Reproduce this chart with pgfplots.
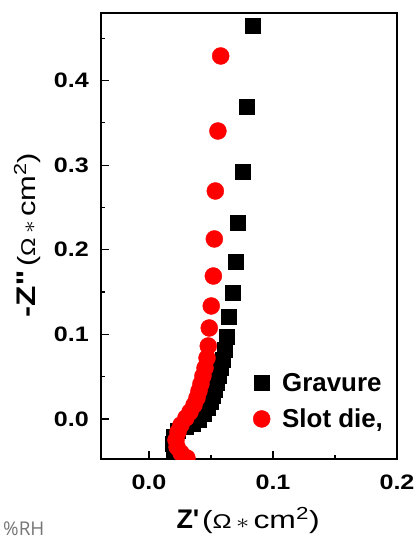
\documentclass[border=0pt]{standalone}
\usepackage{fontspec}
\setmainfont{Liberation Sans}
\newfontfamily\opensans{Open Sans}
\usepackage{graphicx}
\usepackage{pgfplots}
\pgfplotsset{compat=1.18}

\pgfplotstableread{
x y
0.0839 0.4645
0.0790 0.3688
0.0758 0.2920
0.0718 0.2317
0.0702 0.1856
0.0677 0.1489
0.0645 0.1206
0.0629 0.0969
0.0613 0.0816
0.0597 0.0697
0.0581 0.0603
0.0565 0.0508
0.0548 0.0426
0.0532 0.0343
0.0516 0.0272
0.0500 0.0201
0.0476 0.0130
0.0444 0.0059
0.0403 -0.0012
0.0355 -0.0059
0.0298 -0.0095
0.0234 -0.0142
0.0202 -0.0213
0.0194 -0.0296
0.0202 -0.0390
}\gravure

\pgfplotstableread{
x y
0.0578 0.4291
0.0556 0.3404
0.0535 0.2695
0.0527 0.2128
0.0519 0.1690
0.0502 0.1336
0.0486 0.1076
0.0478 0.0863
0.0468 0.0721
0.0452 0.0603
0.0435 0.0508
0.0419 0.0414
0.0403 0.0331
0.0387 0.0248
0.0363 0.0165
0.0331 0.0083
0.0298 0.0012
0.0258 -0.0071
0.0234 -0.0154
0.0218 -0.0248
0.0226 -0.0331
0.0258 -0.0402
0.0306 -0.0461
0.0355 -0.0508
}\slotdie

\newcommand{\unit}{{\fontsize{25}{25}\selectfont(}{\fontsize{20}{20}\selectfont Ω\,$\ast$\,}{\fontsize{25}{25}\selectfont cm\textsuperscript{2})}}
\newcommand{\legfont}{\fontsize{26}{26}\selectfont\bfseries}

\begin{document}
\begin{tikzpicture}
\path[use as bounding box] (-101bp,-86bp) rectangle (317bp,459bp);
\begin{axis}[
  scale only axis,
  width=296bp, height=446bp,
  xmin=-0.0387, xmax=0.2,
  ymin=-0.0473, ymax=0.4799,
  axis line style={line width=1.5bp},
  tick style={line width=1.2bp, black},
  tick align=inside,
  major tick length=8bp, minor tick length=4bp,
  xtick={0,0.1,0.2}, ytick={0,0.1,0.2,0.3,0.4},
  minor xtick={0.05,0.15}, minor ytick={0.05,0.15,0.25,0.35,0.45},
  xtick pos=bottom, ytick pos=left,
  tick label style={font=\fontsize{21}{21}\selectfont\bfseries, inner sep=0pt},
  xticklabel={\scalebox{1.2}[1]{\pgfmathprintnumber{\tick}}},
  yticklabel={\scalebox{1.2}[1]{\pgfmathprintnumber{\tick}}},
  xticklabel style={anchor=base, yshift=-30bp},
  yticklabel style={anchor=east, xshift=-12bp},
  xlabel={{\fontsize{27}{27}\selectfont\bfseries Z\textquotesingle}\ \scalebox{1.28}[1]{\unit}},
  ylabel={\scalebox{1.24}[1]{{\fontsize{27}{27}\selectfont\bfseries -Z\textquotesingle\textquotesingle}\ \unit}},
  xlabel style={at={(axis description cs:0.497,-0.155)}, anchor=base, inner sep=0pt},
  ylabel style={at={(axis description cs:-0.25,0.502)}, anchor=center, inner sep=0pt},
  clip marker paths=true,
  legend style={draw=none, fill=none, inner sep=0pt,
    at={(axis description cs:0.5135,0.195)}, anchor=north west,
    nodes={inner sep=1bp}, row sep=14bp,
    /tikz/every odd column/.append style={column sep=11bp}},
  legend cell align=left,
  legend image code/.code={\draw[#1] plot coordinates {(0cm,0cm)};},
  /pgf/number format/fixed,
  /pgf/number format/fixed zerofill,
  /pgf/number format/precision=1,
  /pgf/number format/assume math mode=true,
]
\addplot[only marks, mark=square*, mark size=7.5bp, black] table[x=x, y=y] {\gravure};
\addlegendentry{\legfont Gravure}
\addplot[only marks, mark=*, mark size=8.5bp, red, mark options={fill=red, draw=red}] table[x=x, y=y] {\slotdie};
\addlegendentry{\legfont Slot die,}
\end{axis}
\node[anchor=base west, inner sep=0pt, font=\opensans\fontsize{19}{19}\selectfont, text={rgb,255:red,118;green,118;blue,118}] at (-98bp,-76bp) {\%RH};
\end{tikzpicture}
\end{document}
